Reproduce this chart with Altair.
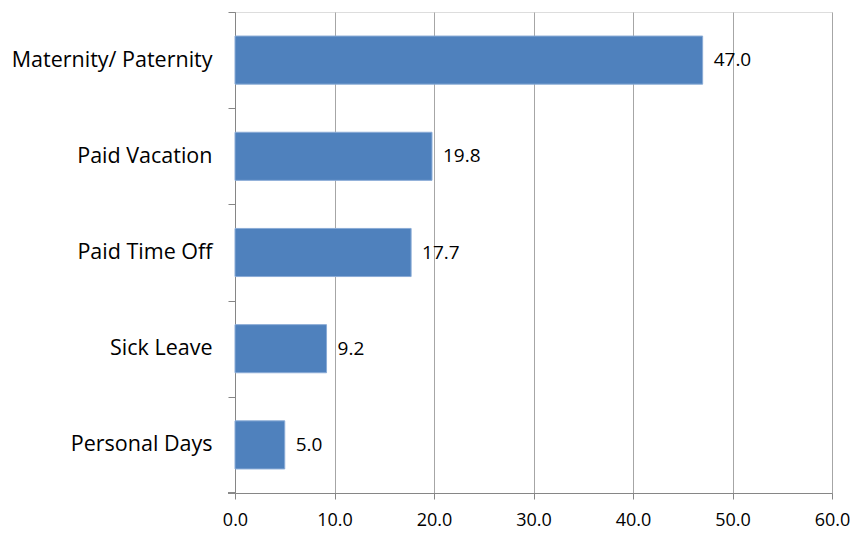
import altair as alt
import pandas as pd

# Average days of leave by type
leave_types = ["Maternity/ Paternity", "Paid Vacation", "Paid Time Off", "Sick Leave", "Personal Days"]
avg_days = [47.0, 19.8, 17.7, 9.2, 5.0]

df = pd.DataFrame({"type": leave_types, "days": avg_days})

W, H = 597, 481
STEP = H / len(leave_types)
FONT = "Open Sans"
AXIS_GREY = "#868686"

y_enc = alt.Y(
    "type:N",
    sort=leave_types,
    title=None,
    scale=alt.Scale(paddingInner=0.5, paddingOuter=0.25),
    axis=alt.Axis(
        domainColor=AXIS_GREY,
        tickColor=AXIS_GREY,
        tickSize=7,
        tickOffset=-STEP / 2,
        labelOffset=STEP / 2,
        labelPadding=16,
        labelFont=FONT,
        labelFontSize=21.5,
        labelColor="#000000",
        labelLimit=400,
        grid=False,
    ),
)

x_enc = alt.X(
    "days:Q",
    title=None,
    scale=alt.Scale(domain=[0, 60], nice=False),
    axis=alt.Axis(
        values=[0, 10, 20, 30, 40, 50, 60],
        format=".1f",
        domainColor=AXIS_GREY,
        tickColor=AXIS_GREY,
        tickSize=6,
        labelPadding=12,
        labelFont=FONT,
        labelFontSize=18,
        labelColor="#000000",
        grid=True,
        gridColor="#a6a6a6",
        labelFlush=False,
    ),
)

bars = alt.Chart(df).mark_bar(
    color="#4f81bd", stroke="#8aabd6", strokeWidth=1
).encode(x=x_enc, y=y_enc)

labels = alt.Chart(df).mark_text(
    align="left", baseline="middle", dx=11, font=FONT, fontSize=19, color="#000000"
).encode(
    x="days:Q",
    y=alt.Y("type:N", sort=leave_types),
    text=alt.Text("days:Q", format=".1f"),
)

# closing tick at the bottom of the category axis
bottom_tick = alt.Chart(df).mark_rule(color=AXIS_GREY).encode(
    x=alt.value(-7), x2=alt.value(0), y=alt.value(H)
)

chart = (
    alt.layer(bars, labels, bottom_tick)
    .properties(
        width=W,
        height=H,
        autosize=alt.AutoSizeParams(type="none"),
        padding={"left": 235, "top": 12, "right": 24, "bottom": 40},
    )
    .configure_view(stroke=None)
    .configure(background="#ffffff")
)

chart.save("out.html", embed_options={"renderer": "svg", "actions": False})
